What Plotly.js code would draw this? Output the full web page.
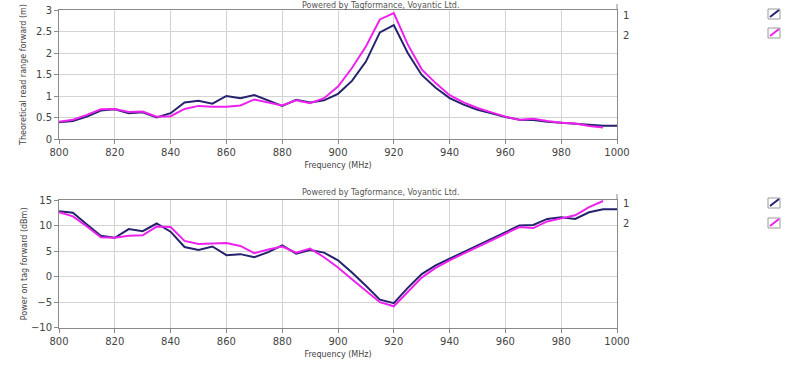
<!DOCTYPE html>
<html>
<head>
<meta charset="utf-8">
<script src="https://cdn.plot.ly/plotly-3.0.1.min.js"></script>
<style>html,body{margin:0;padding:0;background:#fff;}#chart{width:796px;height:374px;}</style>
</head>
<body>
<div id="chart"></div>
<script>
// Frequencies (MHz)
const freq = [800,805,810,815,820,825,830,835,840,845,850,855,860,865,870,875,880,885,890,895,900,905,910,915,920,925,930,935,940,945,950,955,960,965,970,975,980,985,990,995,1000];
const freq2 = freq.slice(0, 40); // series 2 ends at 995

// Theoretical read range forward (m)
const range1 = [0.39,0.42,0.52,0.66,0.69,0.60,0.62,0.50,0.60,0.85,0.89,0.82,1.00,0.95,1.02,0.90,0.77,0.91,0.85,0.90,1.05,1.35,1.80,2.48,2.65,2.00,1.49,1.19,0.95,0.80,0.68,0.60,0.51,0.45,0.44,0.40,0.38,0.36,0.33,0.31,0.31];
const range2 = [0.40,0.45,0.56,0.69,0.70,0.63,0.64,0.52,0.53,0.70,0.77,0.75,0.75,0.78,0.92,0.85,0.78,0.90,0.83,0.95,1.22,1.65,2.15,2.78,2.93,2.20,1.62,1.30,1.02,0.85,0.72,0.62,0.52,0.45,0.47,0.42,0.38,0.36,0.30,0.27];

// Power on tag forward (dBm)
const power1 = [12.8,12.5,10.2,8.0,7.6,9.3,8.9,10.4,8.8,5.8,5.2,5.9,4.2,4.4,3.8,4.8,6.1,4.5,5.2,4.7,3.2,0.8,-1.8,-4.5,-5.2,-2.2,0.5,2.2,3.5,4.8,6.1,7.5,8.8,10.0,10.1,11.3,11.6,11.3,12.6,13.2,13.2];
const power2 = [12.6,11.8,9.8,7.7,7.6,8.0,8.1,9.8,9.7,7.0,6.4,6.5,6.6,6.0,4.6,5.3,5.9,4.7,5.5,3.8,1.8,-0.5,-2.8,-5.0,-5.8,-3.0,-0.2,1.7,3.2,4.5,5.8,7.2,8.5,9.7,9.5,10.8,11.4,12.0,13.6,14.8];

const seriesNames = ['1','2'];
const colors = ['#25236e','#ee22ee'];
const credit = 'Powered by Tagformance, Voyantic Ltd.';
const xTitle = 'Frequency (MHz)';
const yTitle1 = 'Theoretical read range forward (m)';
const yTitle2 = 'Power on tag forward (dBm)';

const W = 796, H = 374;
const px = x => x / W;
const py = y => 1 - y / H;

const traces = [
  {x: freq, y: range1, name: seriesNames[0], xaxis: 'x', yaxis: 'y', mode: 'lines', line: {color: colors[0], width: 2}},
  {x: freq2, y: range2, name: seriesNames[1], xaxis: 'x', yaxis: 'y', mode: 'lines', line: {color: colors[1], width: 2}},
  {x: freq, y: power1, name: seriesNames[0], xaxis: 'x2', yaxis: 'y2', mode: 'lines', line: {color: colors[0], width: 2}},
  {x: freq2, y: power2, name: seriesNames[1], xaxis: 'x2', yaxis: 'y2', mode: 'lines', line: {color: colors[1], width: 2}}
];

const tickFont = {family: 'DejaVu Sans', size: 10, color: '#444'};
const titleFont = {family: 'DejaVu Sans', size: 8, color: '#444'};
const axisCommon = {
  showgrid: true, gridcolor: '#d4d4d4', gridwidth: 1,
  showline: true, linecolor: '#8a8a8a', linewidth: 1, mirror: true,
  ticks: 'outside', ticklen: 4, tickcolor: '#8a8a8a',
  tickfont: tickFont, zeroline: false, fixedrange: true
};

const layout = {
  width: W, height: H,
  margin: {l: 0, r: 0, t: 0, b: 0},
  paper_bgcolor: '#fff', plot_bgcolor: '#fff',
  showlegend: false,
  xaxis: Object.assign({}, axisCommon, {domain: [px(59), px(617)], range: [800, 1000], dtick: 20, anchor: 'y',
    title: {text: xTitle, font: titleFont, standoff: 5}}),
  yaxis: Object.assign({}, axisCommon, {domain: [py(139), py(10)], range: [0, 3], dtick: 0.5, anchor: 'x',
    title: {text: yTitle1, font: titleFont, standoff: 8}}),
  xaxis2: Object.assign({}, axisCommon, {domain: [px(59), px(617)], range: [800, 1000], dtick: 20, anchor: 'y2',
    title: {text: xTitle, font: titleFont, standoff: 5}}),
  yaxis2: Object.assign({}, axisCommon, {domain: [py(327.7), py(200)], range: [-10, 15], dtick: 5, anchor: 'x2',
    title: {text: yTitle2, font: titleFont, standoff: 2}}),
  annotations: [],
  shapes: []
};

// credits
[6, 193].forEach(y => layout.annotations.push({xref: 'paper', yref: 'paper', x: px(380), y: py(y), text: credit, showarrow: false, font: {family: 'DejaVu Sans', size: 8, color: '#555'}, xanchor: 'center', yanchor: 'middle'}));

// right-side series labels and legend icons
const labelY = [[15, 35], [204, 223]];
const iconY = [[14, 33], [203, 223]];
labelY.forEach(pair => pair.forEach((y, i) => layout.annotations.push({xref: 'paper', yref: 'paper', x: px(621), y: py(y), text: seriesNames[i], showarrow: false, font: {family: 'DejaVu Sans', size: 10, color: '#444'}, xanchor: 'left', yanchor: 'middle'})));
iconY.forEach(pair => pair.forEach((y, i) => {
  layout.shapes.push({type: 'rect', xref: 'paper', yref: 'paper', x0: px(768), x1: px(780), y0: py(y + 5), y1: py(y - 5), line: {color: '#9a9a9a', width: 1}, fillcolor: '#fff'});
  layout.shapes.push({type: 'line', xref: 'paper', yref: 'paper', x0: px(770), x1: px(779), y0: py(y + 3), y1: py(y - 4), line: {color: colors[i], width: 2}});
}));
// right border extends slightly above each plot
[[4, 10], [194, 200]].forEach(([a, b]) => layout.shapes.push({type: 'line', xref: 'paper', yref: 'paper', x0: px(617), x1: px(617), y0: py(a), y1: py(b), line: {color: '#8a8a8a', width: 1}}));

Plotly.newPlot('chart', traces, layout, {displayModeBar: false, staticPlot: true});
</script>
</body>
</html>
